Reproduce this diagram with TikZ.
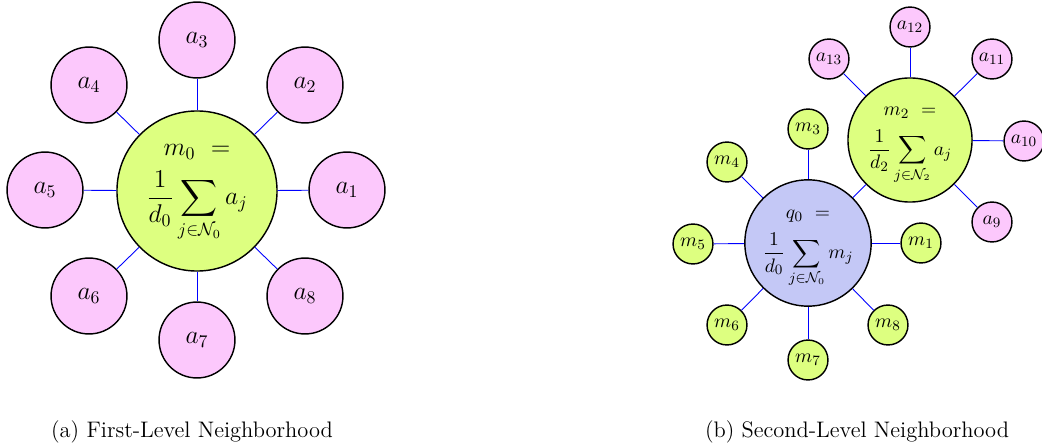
\documentclass[tikz,border=0pt]{standalone}
\usepackage{amsmath,amssymb}
\definecolor{petal}{RGB}{252,200,252}
\definecolor{leaf}{RGB}{221,255,128}
\definecolor{hubblue}{RGB}{196,200,246}
\tikzset{
  px/.style={x=0.561pt,y=-0.561pt},
  ring/.style={circle,draw=black,line width=0.8pt,inner sep=0pt,align=center},
  leafA/.style={ring,fill=petal},
  leafM/.style={ring,fill=leaf},
  bigleaf/.style={minimum size=42.6pt,font=\fontsize{14.4}{17}\selectfont},
  smallleaf/.style={minimum size=22.4pt,font=\fontsize{11}{13}\selectfont},
  hubL/.style={ring,fill=leaf,minimum size=89.8pt,font=\fontsize{14.4}{17}\selectfont},
  hubR/.style={ring,minimum size=69.6pt,font=\fontsize{11}{13}\selectfont},
  link/.style={blue,line width=0.5pt},
  caption/.style={font=\fontsize{12.6}{15}\selectfont,inner sep=0pt}
}
\begin{document}
\begin{tikzpicture}[px]
\useasboundingbox (0,0) rectangle (1042,447);

% (a) first-level neighbourhood
\node[hubL] (m0) at (197,191) {\rule{0pt}{8.5pt}$m_0\ =$\\[5.5pt]$\displaystyle\frac{1}{d_0}\sum_{j\in\mathcal{N}_0}a_j$};
\node[leafA,bigleaf] (a1) at (347,190) {$a_1$};
\node[leafA,bigleaf] (a2) at (305,85)  {$a_2$};
\node[leafA,bigleaf] (a3) at (197,40)  {$a_3$};
\node[leafA,bigleaf] (a4) at (89,85)   {$a_4$};
\node[leafA,bigleaf] (a5) at (45,190)  {$a_5$};
\node[leafA,bigleaf] (a6) at (89,296)  {$a_6$};
\node[leafA,bigleaf] (a7) at (197,340) {$a_7$};
\node[leafA,bigleaf] (a8) at (305,296) {$a_8$};
\foreach \i in {1,...,8} \draw[link] (m0) -- (a\i);

% (b) second-level neighbourhood
\node[hubR,fill=hubblue] (q0) at (808,243) {\rule{0pt}{11pt}$q_0\ =$\\[5pt]$\displaystyle\frac{1}{d_0}\sum_{j\in\mathcal{N}_0}m_j$};
\node[hubR,fill=leaf] (m2) at (910,140) {\rule{0pt}{11pt}$m_2\ =$\\[5pt]$\displaystyle\frac{1}{d_2}\sum_{j\in\mathcal{N}_2}a_j$};
\node[leafM,smallleaf] (m1) at (921,243) {$m_1$};
\node[leafM,smallleaf] (m3) at (808,129) {$m_3$};
\node[leafM,smallleaf] (m4) at (727,162) {$m_4$};
\node[leafM,smallleaf] (m5) at (693,244) {$m_5$};
\node[leafM,smallleaf] (m6) at (727,325) {$m_6$};
\node[leafM,smallleaf] (m7) at (808,360) {$m_7$};
\node[leafM,smallleaf] (m8) at (888,325) {$m_8$};
\foreach \i in {1,...,8} \draw[link] (q0) -- (m\i);

\node[leafA,smallleaf] (a9)  at (992,222) {$a_9$};
\node[leafA,smallleaf] (a10) at (1024,141) {$a_{10}$};
\node[leafA,smallleaf] (a11) at (992,59)  {$a_{11}$};
\node[leafA,smallleaf] (a12) at (910,27)  {$a_{12}$};
\node[leafA,smallleaf] (a13) at (829,59)  {$a_{13}$};
\foreach \i in {9,...,13} \draw[link] (m2) -- (a\i);

% captions
\node[caption] (capa) at (192,432) {(a) First-Level Neighborhood};
\node[caption] (capb) at (857,432) {(b) Second-Level Neighborhood};
\end{tikzpicture}
\end{document}
